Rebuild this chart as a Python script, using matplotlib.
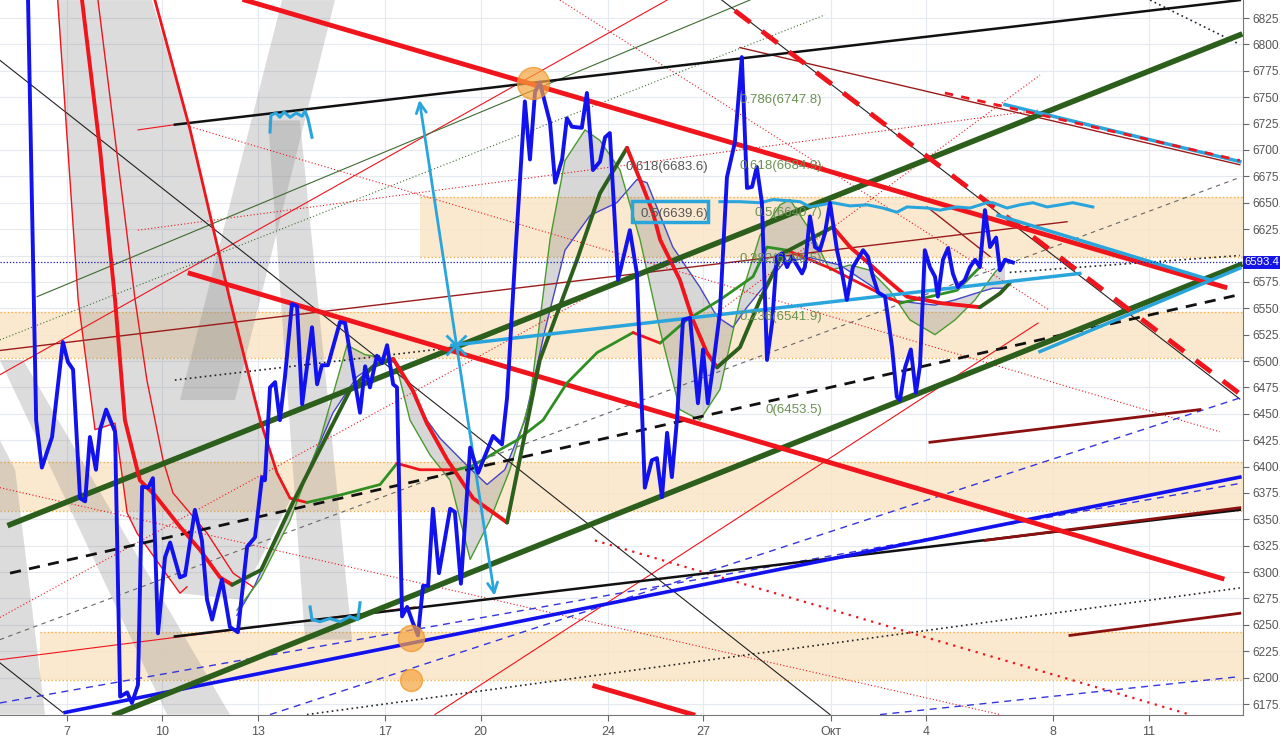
import matplotlib.pyplot as plt
from matplotlib.patches import Rectangle, Polygon

plt.rcParams['font.family'] = ['Liberation Sans', 'DejaVu Sans']

# x = day counted from 1 Sep (31 = 1 Oct), y = price
tick_days = [7, 10, 13, 17, 20, 24, 27, 31, 34, 38, 41]
tick_names = ['7', '10', '13', '17', '20', '24', '27', 'Окт', '4', '8', '11']
price_ticks = list(range(6175, 6826, 25))
last_price = 6593.4

price_days = [5.77, 6.03, 6.21, 6.53, 6.87, 7.03, 7.19, 7.41, 7.57, 7.72, 7.91, 8.04, 8.23, 8.51, 8.67,
              8.89, 9.04, 9.23, 9.36, 9.55, 9.70, 9.86, 10.08, 10.24, 10.55, 10.71, 11.02, 11.24, 11.40,
              11.56, 11.87, 12.12, 12.37, 12.66, 12.91, 13.13, 13.22, 13.38, 13.54, 13.69, 13.85, 14.07,
              14.23, 14.39, 14.70, 14.86, 15.01, 15.20, 15.58, 15.74, 16.21, 16.37, 16.52, 16.74, 16.90,
              17.06, 17.25, 17.37, 17.53, 17.69, 17.87, 18.03, 18.19, 18.35, 18.50, 18.69, 19.04, 19.19,
              19.38, 19.67, 19.92, 20.39, 20.67, 20.83, 21.08, 21.39, 21.55, 21.71, 21.86, 22.18, 22.34,
              22.56, 22.71, 22.87, 23.18, 23.34, 23.53, 23.75, 23.91, 24.06, 24.32, 24.47, 24.69, 24.91,
              25.16, 25.38, 25.54, 25.70, 25.86, 26.01, 26.17, 26.36, 26.58, 26.83, 26.99, 27.14, 27.30,
              27.52, 27.74, 27.99, 28.21, 28.37, 28.53, 28.68, 28.84, 29.00, 29.16, 29.31, 29.47, 29.63,
              29.78, 29.94, 30.10, 30.19, 30.35, 30.51, 30.66, 30.82, 30.98, 31.20, 31.36, 31.51, 31.70,
              32.02, 32.17, 32.33, 32.49, 32.71, 32.93, 33.08, 33.18, 33.34, 33.52, 33.68, 33.81, 33.96,
              34.12, 34.28, 34.37, 34.53, 34.69, 34.84, 35.00, 35.22, 35.38, 35.54, 35.69, 35.85, 36.01,
              36.20, 36.32, 36.48, 36.73]
price_values = [6851, 6444, 6399, 6428, 6518, 6499, 6492, 6370, 6367, 6428, 6397, 6435, 6454, 6433, 6182,
                6186, 6176, 6193, 6381, 6380, 6389, 6242, 6314, 6328, 6295, 6297, 6359, 6330, 6274,
                6255, 6293, 6248, 6243, 6324, 6333, 6390, 6387, 6475, 6480, 6444, 6485, 6554,
                6552, 6459, 6532, 6478, 6496, 6496, 6537, 6536, 6451, 6495, 6475, 6505, 6498,
                6515, 6478, 6475, 6258, 6267, 6252, 6240, 6287, 6287, 6360, 6299, 6360, 6357,
                6289, 6418, 6394, 6429, 6421, 6465, 6596, 6746, 6691, 6755, 6764, 6726, 6669,
                6691, 6730, 6722, 6721, 6754, 6681, 6689, 6712, 6716, 6577, 6596, 6624, 6583,
                6380, 6406, 6408, 6371, 6432, 6390, 6444, 6539, 6541, 6460, 6511, 6460, 6494,
                6546, 6674, 6707, 6788, 6664, 6665, 6684, 6650, 6501, 6536, 6599, 6602, 6589,
                6599, 6591, 6583, 6589, 6637, 6608, 6605, 6621, 6650, 6605, 6583, 6558, 6589,
                6605, 6599, 6580, 6565, 6561, 6513, 6466, 6463, 6494, 6511, 6470, 6496, 6605,
                6589, 6580, 6561, 6596, 6607, 6583, 6570, 6577, 6589, 6596, 6589, 6643, 6608,
                6617, 6586, 6596, 6593.4]

# slow average, red while falling and dark green while rising
slow_days = [7.40, 8.04, 8.51, 8.82, 9.29, 9.76, 10.55, 11.18, 11.81, 12.19, 13.10, 14.10, 14.86, 15.89,
             16.62, 17.25, 17.87, 18.31, 18.94, 19.76, 20.83, 21.86, 23.03, 23.75, 24.60, 25.10, 25.42,
             25.64, 26.26, 26.67, 27.11, 27.43, 28.15, 28.78, 29.50, 31.07, 31.61, 32.33, 32.77, 33.40,
             34.44, 35.69, 36.32, 36.63]
slow_values = [6860, 6700, 6558, 6444, 6387, 6373, 6343, 6321, 6295, 6288, 6302, 6366, 6411, 6472,
               6495, 6502, 6472, 6441, 6407, 6370, 6347, 6501, 6596, 6659, 6702, 6665, 6640,
               6615, 6577, 6539, 6508, 6494, 6513, 6558, 6602, 6627, 6608, 6589, 6577, 6561,
               6555, 6551, 6564, 6574]
slow_turns = [12.19, 17.25, 20.83, 24.60, 27.43, 31.07, 35.69]

fast_days = [9.60, 10.87, 12.12, 13.07, 13.60, 14.01, 14.54, 15.58, 16.84, 17.37, 18.09, 19.26, 19.76,
             20.61, 21.14, 21.96, 22.71, 23.66, 24.79, 25.64, 26.48, 27.52, 28.56, 29.00, 29.63, 30.98,
             32.55, 33.18, 34.12, 34.97, 35.69]
fast_values = [6860, 6719, 6558, 6444, 6394, 6370, 6366, 6373, 6383, 6403, 6397, 6397, 6401,
               6416, 6425, 6444, 6479, 6508, 6527, 6517, 6539, 6558, 6580, 6608, 6605, 6588,
               6564, 6555, 6561, 6567, 6589]
fast_turns = [14.54, 17.37, 19.26, 24.79, 25.64, 29.63, 33.18]

thin_red_a = [(6.69, 6850), (7.35, 6558), (7.88, 6435), (8.51, 6441), (8.89, 6356), (9.20, 6337),
              (10.55, 6280), (10.77, 6286)]
thin_red_c = [(7.94, 6850), (9.14, 6558), (9.51, 6482), (10.02, 6406), (10.33, 6375), (11.40, 6337),
              (12.22, 6299), (12.84, 6286)]

# thin averages bounding the grey clouds
cloud_blue = [(12.34, 6259), (12.91, 6288), (13.47, 6326), (14.54, 6394), (15.36, 6451), (16.11, 6485),
              (16.93, 6502), (17.37, 6498), (17.87, 6472), (18.31, 6444), (18.72, 6427), (19.57, 6401),
              (20.20, 6383), (20.76, 6397), (21.39, 6444), (22.02, 6529), (22.65, 6605), (23.44, 6638),
              (24.28, 6650), (24.91, 6672), (25.23, 6669), (26.04, 6608), (26.89, 6570), (27.43, 6542),
              (27.93, 6532), (28.37, 6551), (28.94, 6572), (29.56, 6594), (30.35, 6598), (31.29, 6591),
              (32.24, 6572), (32.86, 6558), (33.65, 6555), (34.28, 6553), (34.91, 6558), (35.54, 6564),
              (36.10, 6569), (36.48, 6569)]
cloud_green = [(12.34, 6264), (13.07, 6293), (14.01, 6349), (14.95, 6425), (15.80, 6515), (16.37, 6506),
               (17.31, 6501), (17.78, 6444), (18.41, 6411), (19.04, 6387), (19.67, 6312), (20.29, 6349),
               (20.92, 6397), (21.55, 6463), (22.18, 6615), (22.65, 6690), (23.28, 6719), (23.75, 6709),
               (24.38, 6681), (25.01, 6615), (25.64, 6529), (26.26, 6454), (26.89, 6444), (27.52, 6473),
               (28.15, 6558), (28.78, 6619), (29.41, 6648), (29.72, 6653), (30.35, 6624), (30.98, 6586),
               (31.61, 6591), (32.24, 6586), (32.86, 6567), (33.49, 6539), (34.28, 6525), (34.91, 6539),
               (35.54, 6558), (36.16, 6584), (36.48, 6594)]

# zones (start day, low, high)
zones = [(18.09, 6599, 6655), (4.89, 6503, 6546), (4.89, 6358, 6404), (6.15, 6198, 6243)]

grey_shapes = [
    [(6.69, 6842), (7.35, 6558), (7.88, 6435), (8.51, 6441), (8.89, 6356), (9.20, 6337), (10.55, 6280),
     (12.44, 6274), (14.01, 6368), (13.60, 6394), (13.07, 6444), (12.12, 6558), (10.87, 6719), (9.67, 6842)],
    [(4.89, 6501), (5.62, 6501), (12.12, 6165), (10.14, 6165)],
    [(4.89, 6425), (5.37, 6397), (6.31, 6165), (4.89, 6165)],
    [(13.76, 6842), (15.42, 6842), (12.28, 6463), (10.55, 6463)],
    [(13.32, 6728), (14.32, 6728), (15.96, 6236), (14.48, 6236)],
]

red_thick = [((12.59, 6842), (43.39, 6570)), ((10.87, 6583), (43.30, 6294)), ((23.59, 6192), (26.67, 6165))]
red_dashed = [((27.99, 6832), (43.86, 6469))]
red_dashed_top = [((34.59, 6754), (43.86, 6690))]
green_thick = [((5.21, 6345), (43.86, 6809)), ((8.51, 6165), (43.86, 6591))]
black_thick = [((10.39, 6724), (43.86, 6842)), ((10.39, 6239), (43.86, 6359))]
black_thin = [((4.89, 6785), (30.98, 6165)), ((4.89, 6214), (6.87, 6167)), ((27.58, 6842), (43.86, 6464))]
black_dotted = [((10.39, 6482), (19.19, 6513)), ((36.63, 6584), (43.86, 6600)), ((14.54, 6165), (43.86, 6285)),
                ((41.04, 6842), (43.86, 6800))]
black_dashed = [((5.21, 6299), (43.86, 6563))]
grey_dashed = [((4.89, 6236), (43.86, 6674))]
blue_thick = [((6.94, 6167), (43.86, 6390))]
blue_dashed = [((4.89, 6176), (43.86, 6384)), ((13.38, 6165), (43.86, 6465)), ((32.55, 6165), (43.86, 6201))]
red_thin = [((4.89, 6487), (25.86, 6842)), ((18.56, 6165), (37.52, 6536)), ((4.89, 6217), (17.94, 6267)),
            ((9.23, 6719), (10.39, 6724))]
darkred_thin = [((4.89, 6510), (38.43, 6632)), ((28.15, 6797), (43.86, 6686)), ((34.03, 6646), (36.01, 6599))]
darkred_thick = [((34.12, 6423), (42.61, 6454)), ((35.85, 6330), (43.86, 6361)), ((38.52, 6240), (43.86, 6261))]
red_dotted = [((10.87, 6722), (43.23, 6433)), ((9.23, 6624), (37.58, 6738)), ((22.49, 6842), (37.89, 6548)),
              ((27.52, 6548), (37.58, 6771)), ((4.89, 6380), (36.32, 6165)), ((4.89, 6257), (23.75, 6567))]
red_dotted_heavy = [((23.59, 6330), (42.29, 6165))]
green_thin = [((6.06, 6561), (28.46, 6842))]
green_dotted = [((4.89, 6520), (30.82, 6828))]
cyan_lines = [((19.10, 6515), (38.83, 6583)), ((36.26, 6638), (42.92, 6577)), ((37.58, 6509), (43.86, 6588)),
              ((36.48, 6743), (43.86, 6689))]
cyan_arrow = ((18.06, 6750), (20.45, 6275))
cyan_cross = (19.22, 6515)
cyan_wave = [(27.52, 6651), (28.15, 6651), (28.78, 6650), (29.19, 6653), (30.04, 6651), (30.35, 6646),
             (31.07, 6650), (31.61, 6647), (32.15, 6648), (32.64, 6645), (33.08, 6641), (33.40, 6646),
             (34.03, 6645), (34.44, 6643), (34.97, 6646), (35.38, 6645), (35.91, 6650), (36.10, 6650),
             (36.54, 6645), (36.95, 6648), (37.36, 6650), (37.80, 6646), (38.21, 6648), (38.61, 6650),
             (39.24, 6646)]
cyan_squiggle_top = [(13.38, 6717), (13.41, 6733), (13.57, 6735), (13.69, 6731), (13.82, 6736), (14.01, 6731),
                     (14.20, 6735), (14.39, 6732), (14.48, 6737), (14.57, 6730), (14.70, 6712)]
cyan_squiggle_low = [(14.64, 6267), (14.70, 6255), (14.95, 6253), (15.26, 6256), (15.58, 6253), (15.89, 6258),
                     (16.14, 6255), (16.21, 6271)]
circles = [(21.64, 6763, 530), (17.81, 6238, 350), (17.81, 6198, 250)]

fib_names = ['0.786(6747.8)', '0.618(6684.9)', '0.5(6640.7)', '0.382(6596.5)', '0.236(6541.9)', '0(6453.5)']
fib_levels = [6747.8, 6684.9, 6640.7, 6596.5, 6541.9, 6453.5]
fib2_names = ['0.618(6683.6)', '0.5(6639.6)']
fib2_levels = [6683.6, 6639.6]

RED = '#f0141c'
DKGREEN = '#2c5e1c'
GREEN = '#2f8f22'
CYAN = '#2aa5dc'
BLUE = '#1212ee'

fig = plt.figure(figsize=(12.8, 7.38), dpi=100)
ax = fig.add_axes([0, 23 / 738, 1243 / 1280, 715 / 738])
ax.set_xlim(4.894, 43.96)
ax.set_ylim(6164.6, 6842.1)


def draw(pairs, **kw):
    for (x0, y0), (x1, y1) in pairs:
        ax.plot([x0, x1], [y0, y1], **kw)


def path(points, **kw):
    ax.plot([p[0] for p in points], [p[1] for p in points], **kw)


def two_tone(days, vals, turns, lw, up_color):
    cuts = [0] + [days.index(t) for t in turns] + [len(days) - 1]
    for k in range(len(cuts) - 1):
        a, b = cuts[k], cuts[k + 1]
        ax.plot(days[a:b + 1], vals[a:b + 1], color=RED if k % 2 == 0 else up_color,
                lw=lw, zorder=4.5, solid_capstyle='round')


for d in tick_days:
    ax.axvline(d, color='#e4eaf0', lw=0.8, zorder=0)
for p in price_ticks:
    ax.axhline(p, color='#e4eaf0', lw=0.8, zorder=0)

for start, lo, hi in zones:
    ax.add_patch(Rectangle((start, lo), 44 - start, hi - lo, facecolor='#fbe4c4', alpha=0.8,
                           edgecolor='none', zorder=1))
    ax.plot([start, 44], [lo, lo], color='#f4b04a', lw=1, ls=':', zorder=1.1)
    ax.plot([start, 44], [hi, hi], color='#f4b04a', lw=1, ls=':', zorder=1.1)

for shape in grey_shapes:
    ax.add_patch(Polygon(shape, closed=True, facecolor='#8c8c8c', alpha=0.3, edgecolor='none', zorder=1.5))

cloud = cloud_blue + cloud_green[::-1]
ax.add_patch(Polygon(cloud, closed=True, facecolor='#8f8f8f', alpha=0.35, edgecolor='none', zorder=2))
path(cloud_blue, color='#4646c8', lw=1, zorder=3)
path(cloud_green, color='#4c9a2e', lw=1, zorder=3)

draw(red_dotted, color=RED, lw=0.8, ls=(0, (1, 2)), zorder=3)
draw(red_dotted_heavy, color=RED, lw=1.6, ls=(0, (1, 2.5)), zorder=3)
draw(red_thin, color=RED, lw=0.8, zorder=3)
draw(darkred_thin, color='#9b1b1b', lw=1, zorder=3)
draw(green_thin, color='#3f6b30', lw=0.8, zorder=3)
draw(green_dotted, color='#3f6b30', lw=0.8, ls=(0, (1, 2)), zorder=3)
draw(black_thin, color='#222222', lw=0.8, zorder=3)
draw(black_dotted, color='#222222', lw=1.2, ls=(0, (1, 2)), zorder=3)
draw(grey_dashed, color='#666666', lw=0.8, ls=(0, (4, 4)), zorder=3)
draw(blue_dashed, color='#3434e0', lw=1, ls=(0, (5, 4)), zorder=3)

path(thin_red_a, color=RED, lw=1, zorder=3.5)
path(thin_red_c, color=RED, lw=1, zorder=3.5)
two_tone(fast_days, fast_values, fast_turns, 2.0, GREEN)
two_tone(slow_days, slow_values, slow_turns, 2.8, DKGREEN)

draw(black_dashed, color='#111111', lw=2, ls=(0, (4, 3)), zorder=4)
draw(black_thick, color='#111111', lw=1.8, zorder=4)
draw(darkred_thick, color='#8b1010', lw=2, zorder=4)
draw(blue_thick, color=BLUE, lw=2.6, zorder=4)
draw(green_thick, color=DKGREEN, lw=4, zorder=4)
draw(red_thick, color=RED, lw=3.5, zorder=4)
draw(red_dashed, color=RED, lw=3.5, ls=(0, (4, 3)), zorder=4)

draw(cyan_lines, color=CYAN, lw=2.5, zorder=5)
draw(red_dashed_top, color=RED, lw=2, ls=(0, (3, 3)), zorder=5.1)
path(cyan_wave, color=CYAN, lw=2.2, zorder=5)
path(cyan_squiggle_top, color=CYAN, lw=2.2, zorder=5)
path(cyan_squiggle_low, color=CYAN, lw=2.2, zorder=5)
ax.annotate('', xy=cyan_arrow[0], xytext=cyan_arrow[1],
            arrowprops=dict(arrowstyle='<->', color=CYAN, lw=2, mutation_scale=18), zorder=5)
ax.plot(*cyan_cross, marker='x', color=CYAN, ms=14, mew=2, zorder=5)

ax.axhline(last_price, color='#1a1ab8', lw=0.9, ls=(0, (1, 1.5)), zorder=5)
ax.plot(price_days, price_values, color=BLUE, lw=2.8, zorder=6, solid_joinstyle='round')

for x, y, s in circles:
    ax.scatter([x], [y], s=s, color='#f5a33c', alpha=0.7, edgecolor='#f09020', lw=1, zorder=6.5)

for name, lvl in zip(fib_names, fib_levels):
    ax.text(30.73, lvl, name, ha='right', va='center', fontsize=9.5, color='#6a9150', zorder=7)
for name, lvl in zip(fib2_names, fib2_levels):
    ax.text(27.14, lvl, name, ha='right', va='center', fontsize=9.5, color='#555555', zorder=7)
ax.add_patch(Rectangle((24.76, 6632), 27.14 - 24.76, 6652 - 6632, facecolor='none',
                       edgecolor=CYAN, lw=2.5, zorder=7))

# the 6600 label sits under the last-price tag
ax.yaxis.tick_right()
ax.set_yticks(price_ticks)
ax.set_yticklabels(['' if p == 6600 else f'{p:.1f}' for p in price_ticks])
ax.set_xticks(tick_days)
ax.set_xticklabels(tick_names)
ax.tick_params(axis='y', length=4, width=0.8, color='#666666', labelcolor='#555555', labelsize=8.6, pad=3)
ax.tick_params(axis='x', length=4, width=0.8, color='#666666', labelcolor='#555555', labelsize=9, pad=4)
for side in ['left', 'top']:
    ax.spines[side].set_visible(False)
for side in ['right', 'bottom']:
    ax.spines[side].set_color('#777777')

ax.text(1.0015, last_price, f'{last_price:.1f}', transform=ax.get_yaxis_transform(), ha='left', va='center',
        fontsize=8.2, color='white', zorder=8, clip_on=False,
        bbox=dict(boxstyle='square,pad=0.15', facecolor='#1414e6', edgecolor='none'))

fig.savefig('out.png', dpi=100)
